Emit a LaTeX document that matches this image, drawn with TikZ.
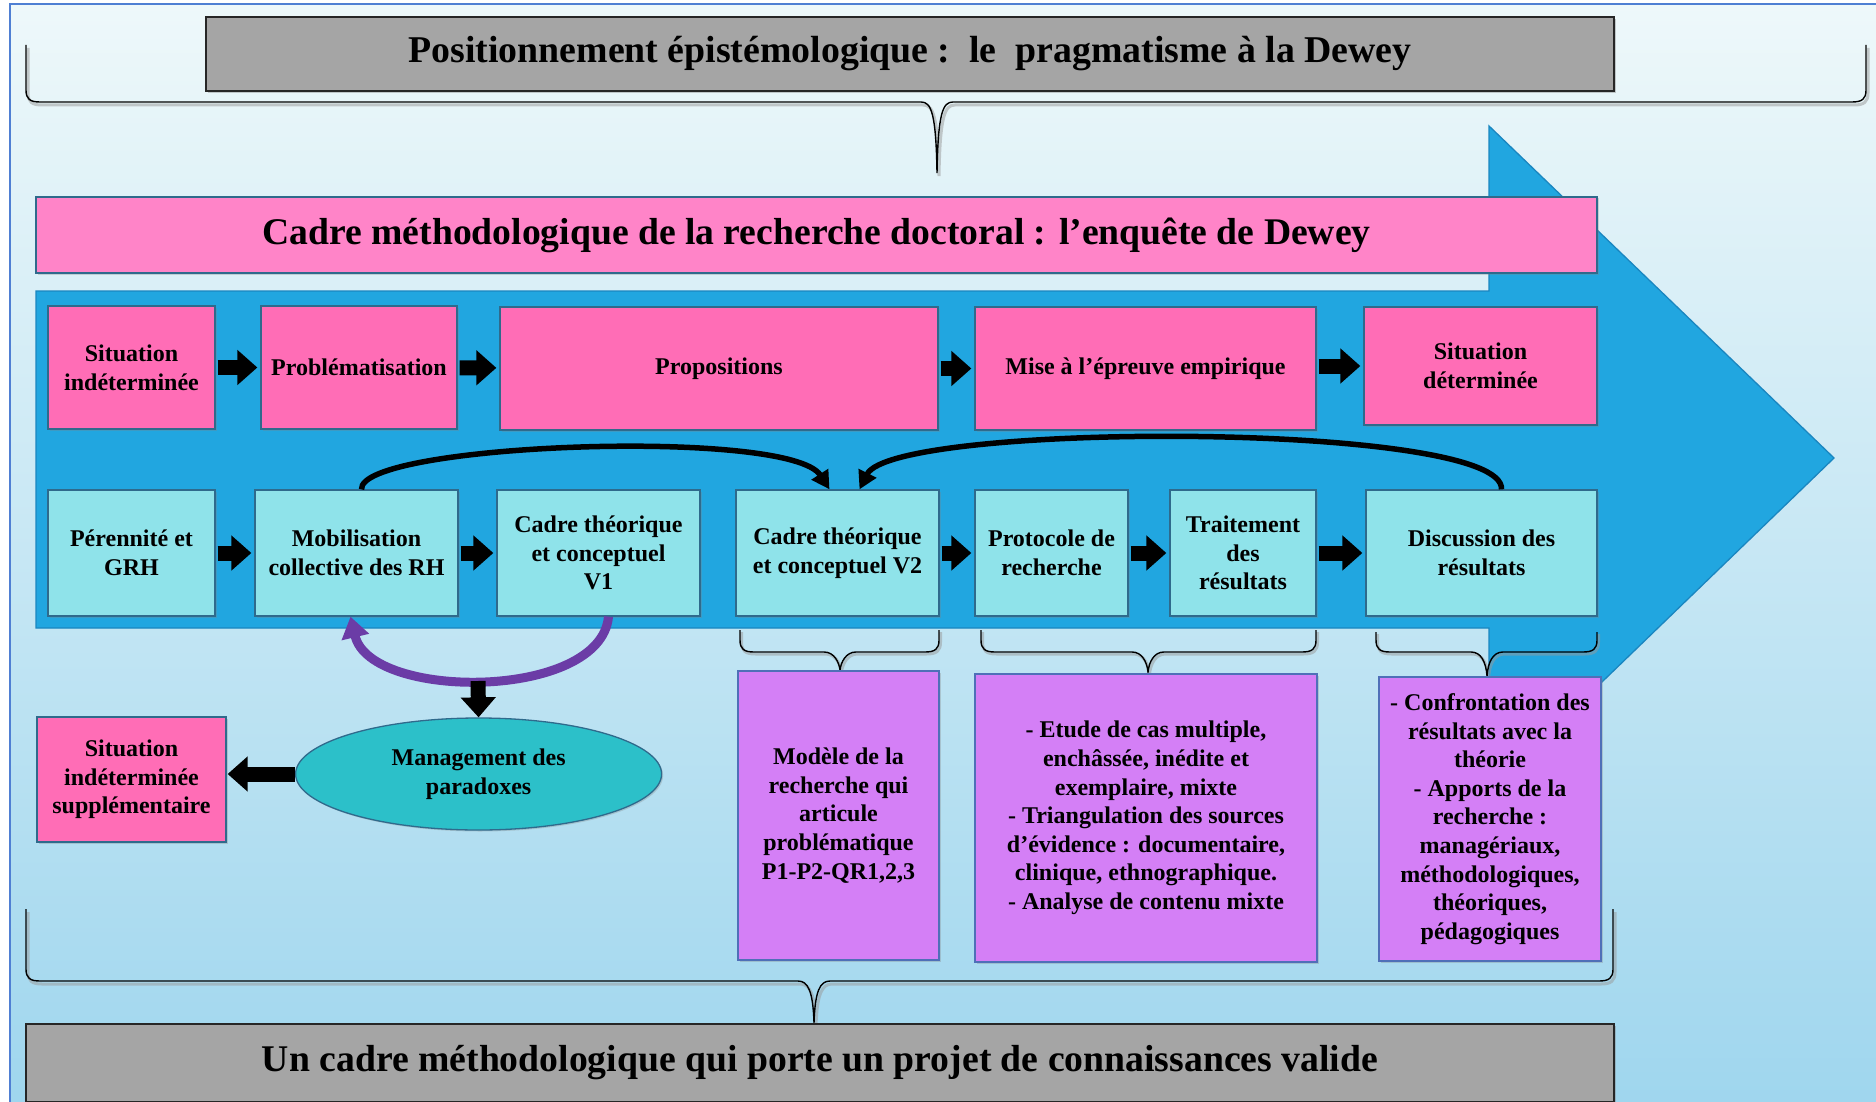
\documentclass[tikz,border=0pt]{standalone}
\usepackage{fontspec}
\setmainfont{Liberation Serif}
\usetikzlibrary{arrows.meta,shapes.geometric,shadows}
\definecolor{pinkbox}{HTML}{FF6DB6}
\definecolor{pinktitle}{HTML}{FF84C8}
\definecolor{cyanbox}{HTML}{8FE3EA}
\definecolor{purplebox}{HTML}{D47FF6}
\definecolor{purpedge}{HTML}{4F6FB8}
\definecolor{bluearrow}{HTML}{21A6E0}
\definecolor{blueedge}{HTML}{1A86C0}
\definecolor{grayboxc}{HTML}{A5A5A5}
\definecolor{ellc}{HTML}{2CC0C9}
\definecolor{framec}{HTML}{4F7FD3}
\definecolor{bgtop}{HTML}{EEF8FA}
\definecolor{bgmid}{HTML}{BFE6F4}
\definecolor{bgbot}{HTML}{9FD6EE}
\definecolor{edgec}{HTML}{2F6A8C}
\definecolor{curvec}{HTML}{6B3CA6}
\newcommand\mybrace[7]{%
  \draw[#7] (#1,#4) -- (#1,#5-12) .. controls (#1,#5-3) and (#1+4,#5) .. (#1+14,#5)
    -- (#3-16,#5) .. controls (#3-6,#5) and (#3-1,#5+10) .. (#3,#6)
    .. controls (#3+1,#5+10) and (#3+6,#5) .. (#3+16,#5)
    -- (#2-14,#5) .. controls (#2-4,#5) and (#2,#5-3) .. (#2,#5-12) -- (#2,#4);}
\begin{document}
\begin{tikzpicture}[x=1pt,y=-1pt,
  every node/.style={font=\bfseries\fontsize{24}{28.6}\selectfont, align=center, inner sep=0pt},
  boxbase/.style={draw=edgec, line width=1.3pt, drop shadow={shadow xshift=1.5pt, shadow yshift=-1.5pt, opacity=0.3}},
  pinkb/.style={boxbase, fill=pinkbox},
  cyanb/.style={boxbase, fill=cyanbox},
  purpb/.style={draw=purpedge, line width=1.5pt, fill=purplebox, drop shadow={shadow xshift=1.5pt, shadow yshift=-1.5pt, opacity=0.3}},
  grayb/.style={draw=black!85, line width=2pt, fill=grayboxc, drop shadow={shadow xshift=2pt, shadow yshift=-2pt, opacity=0.4}},
  blockarrow/.style={line width=15pt, -{Triangle[width=34pt,length=20pt]}, shorten <=2pt, shorten >=3pt},
  curvearrow/.style={line width=5.5pt, -{Triangle[width=19pt,length=18pt]}},
  purparrow/.style={line width=9pt, draw=curvec, -{Triangle[width=27pt,length=21pt]}},
  braceline/.style={line width=1.4pt, black},
  braceshadow/.style={line width=3pt, black!40, opacity=0.5}
]
\useasboundingbox (0,0) rectangle (1876,1102);
\fill[white] (0,0) rectangle (1876,1102);
\shade[top color=bgtop, middle color=bgmid, bottom color=bgbot] (10,4) rectangle (1880,1106);
\draw[framec, line width=2pt] (10,4) rectangle (1880,1106);

% top box and brace
\node[grayb, minimum width=1408pt, minimum height=74pt] (top) at (910,54)
  {\resizebox{1003pt}{!}{\fontsize{34}{40}\selectfont Positionnement épistémologique :\ \ le\ \ pragmatisme à la Dewey}};
\begin{scope}[shift={(2,3)}]\mybrace{26}{1866}{937}{45}{102}{173}{braceshadow}\end{scope}
\mybrace{26}{1866}{937}{45}{102}{173}{braceline}

% big blue arrow
\draw[fill=bluearrow, draw=blueedge, line width=1.3pt] (36,291) -- (1489,291) -- (1489,126) -- (1834,458) -- (1489,791) -- (1489,628) -- (36,628) -- cycle;

\node[boxbase, fill=pinktitle, minimum width=1561pt, minimum height=76pt] (ptitle) at (816.5,235)
  {\resizebox{1108pt}{!}{\fontsize{34}{40}\selectfont Cadre méthodologique de la recherche doctoral : l’enquête de Dewey}};

% row 1
\node[pinkb, minimum width=167pt, minimum height=123pt] (r1a) at (131.5,367.5) {Situation\\indéterminée};
\node[pinkb, minimum width=196pt, minimum height=123pt] (r1b) at (359,367.5) {Problématisation};
\node[pinkb, minimum width=438pt, minimum height=123pt] (r1c) at (719,368.5) {Propositions};
\node[pinkb, minimum width=341pt, minimum height=123pt] (r1d) at (1145.5,368.5) {Mise à l’épreuve empirique};
\node[pinkb, minimum width=233pt, minimum height=118pt] (r1e) at (1480.5,366) {Situation\\déterminée};
\draw[blockarrow] (r1a) -- (r1b);
\draw[blockarrow] (r1b) -- (r1c);
\draw[blockarrow] (r1c.east |- r1d.west) -- (r1d.west);
\draw[blockarrow] (r1d.east |- r1e.west) -- (r1e.west);

% row 2
\node[cyanb, minimum width=167pt, minimum height=126pt] (r2a) at (131.5,553) {Pérennité et\\GRH};
\node[cyanb, minimum width=203pt, minimum height=126pt] (r2b) at (356.5,553) {Mobilisation\\collective des RH};
\node[cyanb, minimum width=203pt, minimum height=126pt] (r2c) at (598.5,553) {Cadre théorique\\et conceptuel\\V1};
\node[cyanb, minimum width=203pt, minimum height=126pt] (r2d) at (837.5,553) {Cadre théorique\\et conceptuel V2};
\node[cyanb, minimum width=153pt, minimum height=126pt] (r2e) at (1051.5,553) {Protocole de\\recherche};
\node[cyanb, minimum width=146pt, minimum height=126pt] (r2f) at (1243,553) {Traitement\\des\\résultats};
\node[cyanb, minimum width=231pt, minimum height=126pt] (r2g) at (1481.5,553) {Discussion des\\résultats};
\draw[blockarrow] (r2a) -- (r2b);
\draw[blockarrow] (r2b) -- (r2c);
\draw[blockarrow] (r2d) -- (r2e);
\draw[blockarrow] (r2e) -- (r2f);
\draw[blockarrow] (r2f) -- (r2g);

% curved black arrows
\draw[curvearrow] ([xshift=5pt]r2b.north) .. controls +(-3,-46) and +(-40,-62) .. ([xshift=-8pt]r2d.north);
\draw[curvearrow] ([xshift=20pt]r2g.north) .. controls +(4,-68) and +(34,-68) .. ([xshift=22pt]r2d.north);

% purple loop
\coordinate (pc) at (478,681);
\draw[purparrow] ([xshift=10pt]r2c.south) .. controls +(-8,84) and +(20,84) .. ([xshift=-6pt]r2b.south);

% ellipse and extra situation
\node[ellipse, draw=edgec, line width=1.3pt, fill=ellc, minimum width=366pt, minimum height=112pt,
  drop shadow={shadow xshift=1.5pt, shadow yshift=-1.5pt, opacity=0.3}] (ell) at (478.6,774) {Management des\\paradoxes};
\node[pinkb, minimum width=189pt, minimum height=125pt] (extra) at (131.5,779.5) {Situation\\indéterminée\\supplémentaire};
\draw[blockarrow, shorten <=0pt, shorten >=0pt] (pc) -- (ell.north);
\draw[blockarrow, shorten <=0pt, shorten >=1pt] (ell.west) -- (extra.east |- ell.west);

% small brackets
\foreach \a/\b/\c/\t/\bt in {740/939/840/630/670, 981/1316/1148/630/672, 1376/1597/1487/632/676}{
  \begin{scope}[shift={(1.5,2)}]\mybrace{\a}{\b}{\c}{\t}{652}{\bt}{braceshadow}\end{scope}
  \mybrace{\a}{\b}{\c}{\t}{652}{\bt}{braceline}
}

% purple boxes
\node[purpb, minimum width=201pt, minimum height=289pt] (p1) at (838.5,815.5)
  {Modèle de la\\recherche qui\\articule\\problématique\\P1-P2-QR1,2,3};
\node[purpb, minimum width=342pt, minimum height=288pt] (p2) at (1146,818)
  {- Etude de cas multiple,\\enchâssée, inédite et\\exemplaire, mixte\\- Triangulation des sources\\d’évidence : documentaire,\\clinique, ethnographique.\\- Analyse de contenu mixte};
\node[purpb, minimum width=222pt, minimum height=284pt] (p3) at (1490,819)
  {- Confrontation des\\résultats avec la\\théorie\\- Apports de la\\recherche :\\managériaux,\\méthodologiques,\\théoriques,\\pédagogiques};

% bottom brace and box
\begin{scope}[shift={(2,3)}]\mybrace{26}{1613}{814}{909}{981}{1023}{braceshadow}\end{scope}
\mybrace{26}{1613}{814}{909}{981}{1023}{braceline}
\node[grayb, minimum width=1588pt, minimum height=78pt] (bot) at (820,1063)
  {\resizebox{1116pt}{!}{\fontsize{34}{40}\selectfont Un cadre méthodologique qui porte un projet de connaissances valide}};
\end{tikzpicture}
\end{document}
